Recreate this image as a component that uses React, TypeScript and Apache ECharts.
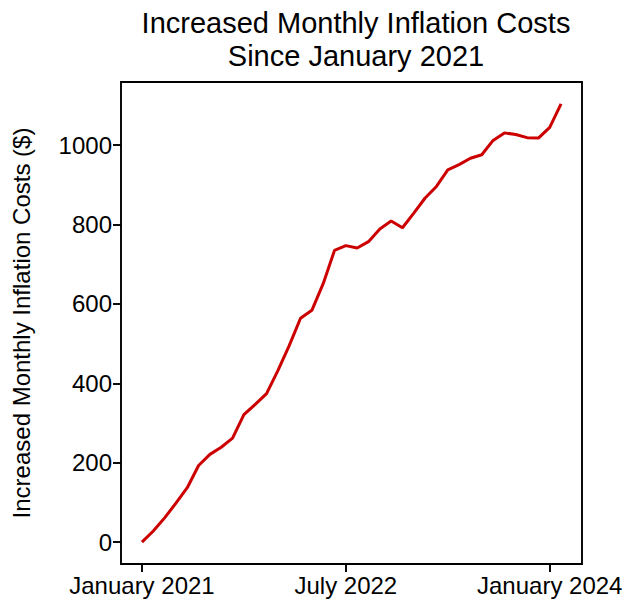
import React, { useEffect, useRef } from "react";
import * as echarts from "echarts";

// Months since January 2021 (0 = Jan 2021)
const monthIndex: number[] = Array.from({ length: 38 }, (_, i) => i);
const costs: number[] = [
  0, 28, 61, 98, 137, 193, 221, 239, 262, 321, 347, 374, 432, 495, 564, 584,
  651, 735, 747, 741, 757, 789, 809, 792, 829, 867, 896, 938, 951, 967, 976,
  1012, 1031, 1027, 1019, 1018, 1045, 1104,
];
const xTickMonths: number[] = [0, 18, 36];
const xTickLabels: string[] = ["January 2021", "July 2022", "January 2024"];
const yTicks: number[] = [0, 200, 400, 600, 800, 1000];
const titleText = "Increased Monthly Inflation Costs\nSince January 2021";
const yLabel = "Increased Monthly Inflation Costs ($)";

export default function App() {
  const ref = useRef<HTMLDivElement>(null);
  useEffect(() => {
    if (!ref.current) return;
    const chart = echarts.init(ref.current, undefined, { renderer: "svg" });
    const n = monthIndex.length - 1;
    const xPad = n * 0.05;
    const yMax = Math.max(...costs);
    const yMin = Math.min(...costs);
    const yPad = (yMax - yMin) * 0.05;
    const font = "Liberation Sans, Arial, sans-serif";
    chart.setOption({
      animation: false,
      backgroundColor: "#fff",
      title: {
        text: titleText,
        left: 351,
        top: 1,
        textAlign: "center",
        textStyle: {
          fontFamily: font,
          fontSize: 29,
          fontWeight: "normal",
          lineHeight: 33,
          color: "#000",
        },
      },
      grid: {
        left: 121,
        right: 44,
        top: 82,
        bottom: 42,
        show: true,
        borderColor: "#000",
        borderWidth: 1.9,
        containLabel: false,
      },
      xAxis: {
        type: "value",
        min: -xPad,
        max: n + xPad,
        splitLine: { show: false },
        axisLine: { show: false, onZero: false },
        axisTick: {
          show: true,
          customValues: xTickMonths,
          length: 8,
          lineStyle: { color: "#000", width: 1.9 },
        },
        axisLabel: {
          customValues: xTickMonths,
          margin: 9,
          fontFamily: font,
          fontSize: 24,
          color: "#000",
          formatter: (v: number) => {
            const k = xTickMonths.indexOf(Math.round(v));
            return k >= 0 ? xTickLabels[k] : "";
          },
        },
      },
      yAxis: {
        type: "value",
        min: yMin - yPad,
        max: yMax + yPad,
        splitLine: { show: false },
        axisLine: { show: false, onZero: false },
        axisTick: {
          show: true,
          customValues: yTicks,
          length: 8,
          lineStyle: { color: "#000", width: 1.9 },
        },
        axisLabel: {
          customValues: yTicks,
          margin: 9,
          fontFamily: font,
          fontSize: 24,
          color: "#000",
          formatter: (v: number) => String(Math.round(v)),
        },
        name: yLabel,
        nameLocation: "middle",
        nameGap: 88,
        nameTextStyle: { fontFamily: font, fontSize: 24, color: "#000" },
      },
      series: [
        {
          type: "line",
          data: monthIndex.map((m, i) => [m, costs[i]]),
          showSymbol: false,
          lineStyle: { color: "#cc0000", width: 3 },
          itemStyle: { color: "#cc0000" },
        },
      ],
    });
    return () => chart.dispose();
  }, []);
  return (
    <div
      ref={ref}
      style={{ position: "fixed", left: 0, top: 0, width: 626, height: 606 }}
    />
  );
}
